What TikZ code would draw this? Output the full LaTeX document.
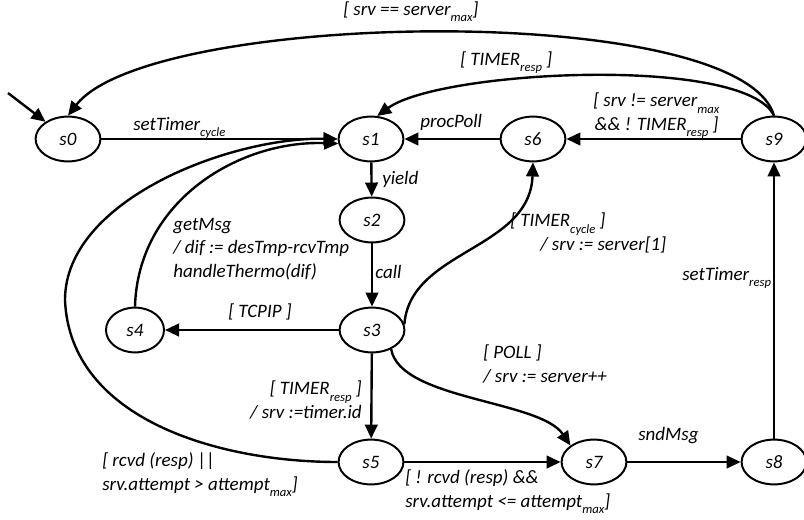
\documentclass[tikz,border=0pt]{standalone}
\usepackage{fontspec}
\setmainfont{Carlito}
\usetikzlibrary{shapes.geometric,arrows.meta}

\newcommand{\low}[1]{\raisebox{-4.5pt}{\fontsize{9}{9}\selectfont #1}}

\tikzstyle{every node}=[font=\itshape\fontsize{13.5}{16.5}\selectfont, inner sep=0pt]
\tikzstyle{state}=[draw=black, line width=1.4pt, ellipse, minimum width=1.62cm, minimum height=1.12cm]
\tikzstyle{trans}=[line width=1.7pt, -{Triangle[length=10pt,width=9pt]}]
\tikzstyle{lbl}=[anchor=base west, align=left]

\begin{document}
\begin{tikzpicture}[x=0.025cm, y=-0.025cm]
  \useasboundingbox (0,0) rectangle (804,520);

  \node[state] (s0) at (68,139) {s0};
  \node[state] (s1) at (371,139) {s1};
  \node[state] (s6) at (533,139) {s6};
  \node[state] (s9) at (774,139) {s9};
  \node[state] (s2) at (372,220) {s2};
  \node[state] (s3) at (372,330) {s3};
  \node[state, minimum width=1.45cm] (s4) at (135,330) {s4};
  \node[state] (s5) at (371,462) {s5};
  \node[state] (s7) at (594,462) {s7};
  \node[state] (s8) at (774,462) {s8};

  \coordinate (init) at (8,93);
  \coordinate (sweep) at (65,300);

  % transitions
  \draw[trans] (init) -- (s0);
  \draw[trans] (s0) -- (s1);
  \draw[trans] (s9.north) .. controls (740,0) and (150,10) .. (s0.north);
  \draw[trans] (s9.north) .. controls (745,55) and (440,70) .. (s1.75);
  \draw[trans] (s9) -- (s6);
  \draw[trans] (s6) -- (s1);
  \draw[trans] (s1) -- (s2);
  \draw[trans] (s2) -- (s3);
  \draw[trans] (s3) -- (s4);
  \draw[trans] (s4.north) .. controls (138,200) and (240,140) .. (s1.188);
  \draw[trans] (s5.west) .. controls (220,462) and (70,420) .. (sweep)
    .. controls (65,200) and (230,137) .. (s1.180);
  \draw[trans] (s3) -- (s5);
  \draw[trans] (s3.10) .. controls (410,250) and (530,250) .. (s6.south);
  \draw[trans] (s3.-45) .. controls (400,400) and (540,400) .. (s7.north west);
  \draw[trans] (s5) -- (s7);
  \draw[trans] (s7) -- (s8);
  \draw[trans] (s8) -- (s9);

  % labels
  \node[lbl] (lCycle) at (133,130) {setTimer\low{cycle}};
  \node[lbl] (lMax) at (343,15) {[ srv == server\low{max}]};
  \node[lbl] (lResp) at (460,65) {[ TIMER\low{resp} ]};
  \node[lbl] (lNext) at (593,130) {[ srv != server\low{max}\\\hspace*{1pt}\&\& ! TIMER\low{resp} ]};
  \node[lbl] (lProc) at (420,127) {procPoll};
  \node[lbl] (lYield) at (382,184) {yield};
  \node[lbl] (lCall) at (375,278) {call};
  \node[lbl] (lGet) at (173,277) {getMsg\\/ dif := desTmp-rcvTmp\\handleThermo(dif)};
  \node[lbl] (lTcp) at (228,317) {[ TCPIP ]};
  \node[lbl] (lFirst) at (510,250) {[ TIMER\low{cycle} ]\\\hspace*{0.75cm}/ srv := server[1]};
  \node[lbl] (lSetResp) at (682,280) {setTimer\low{resp}};
  \node[lbl] (lPoll) at (483,382) {[ POLL ]\\/ srv := server++};
  \node[lbl, anchor=base east, align=right] (lTid) at (362,418) {[ TIMER\low{resp} ]\\/ srv :=timer.id};
  \node[lbl] (lDone) at (102,490) {[ rcvd (resp) ||\\srv.attempt > attempt\low{max}]};
  \node[lbl] (lRetry) at (405,507) {[ ! rcvd (resp) \&\&\\srv.attempt <= attempt\low{max}]};
  \node[lbl] (lSnd) at (638,440) {sndMsg};
\end{tikzpicture}
\end{document}
